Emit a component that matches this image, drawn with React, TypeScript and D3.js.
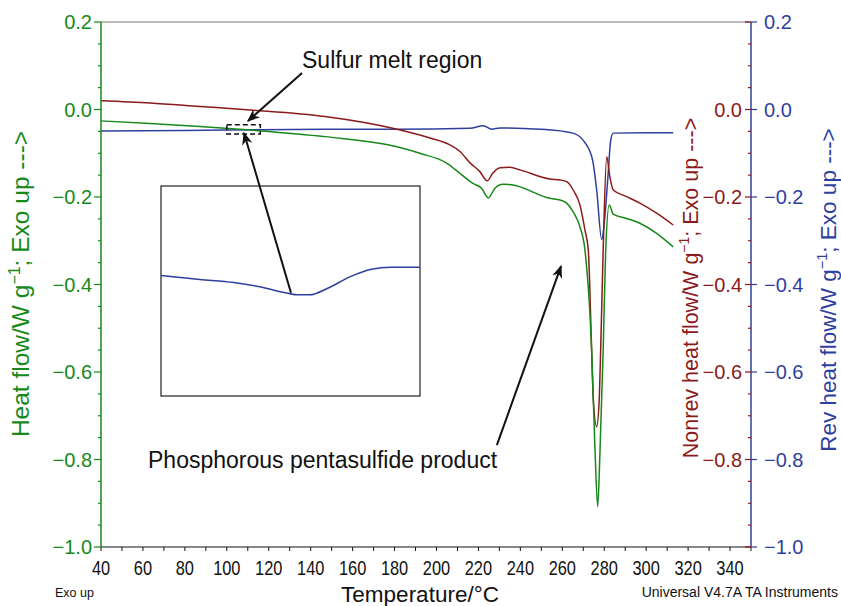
import React from "react";
import * as d3 from "d3";

// Temperature (°C) and heat flow (W/g)
const heatT = [40, 63.4, 87.2, 111.1, 146.8, 181.2, 192.1, 205, 211.2, 217.4, 221.5, 224.7, 227.9, 231.7, 235.8, 254.1, 258.9, 262.1, 265.2, 268.4, 270.8, 274.0, 275.6, 276.9, 278.0, 279.5, 280.7, 282.4, 284.3, 290.7, 297.0, 305.0, 312.9];
const heatV = [-0.026, -0.032, -0.039, -0.047, -0.062, -0.085, -0.100, -0.123, -0.146, -0.169, -0.180, -0.202, -0.180, -0.171, -0.172, -0.203, -0.207, -0.214, -0.234, -0.268, -0.321, -0.550, -0.778, -0.908, -0.778, -0.550, -0.321, -0.218, -0.239, -0.249, -0.260, -0.283, -0.314];

const nonrevT = [40, 63.4, 87.2, 111.1, 146.8, 181.2, 196.9, 206.4, 211.2, 216.0, 220.7, 224.2, 226.9, 230.3, 235.0, 239.8, 254.1, 258.9, 262.1, 265.2, 268.4, 270.8, 272.4, 274.0, 274.8, 276.4, 277.6, 278.3, 279.5, 281.2, 282.7, 284.3, 290.7, 297.0, 305.0, 312.9];
const nonrevV = [0.020, 0.015, 0.007, -0.001, -0.016, -0.045, -0.065, -0.081, -0.096, -0.122, -0.142, -0.163, -0.145, -0.133, -0.132, -0.138, -0.159, -0.161, -0.165, -0.184, -0.218, -0.275, -0.321, -0.550, -0.664, -0.725, -0.664, -0.550, -0.321, -0.108, -0.154, -0.184, -0.199, -0.214, -0.237, -0.264];

const revT = [40, 100, 146.8, 181.2, 216, 222.3, 226.3, 230.3, 249.3, 265.1, 269.9, 273.2, 274.6, 276.4, 278.8, 280.3, 281.9, 283.1, 284.3, 312.9];
const revV = [-0.049, -0.047, -0.045, -0.045, -0.043, -0.037, -0.045, -0.042, -0.045, -0.054, -0.070, -0.096, -0.119, -0.184, -0.297, -0.245, -0.145, -0.070, -0.054, -0.053];

// Inset: magnified reversing heat flow in the sulfur melt region
const insetT = [100.0, 102.4, 104.5, 106.1, 107.6, 108.4, 109.2, 110.3, 111.7, 113.0, 114.2, 116.0];
const insetV = [-0.04656, -0.04667, -0.04676, -0.04688, -0.04704, -0.04711, -0.04711, -0.04692, -0.04659, -0.04638, -0.04632, -0.04632];
const insetTDomain = [100, 116];
const insetVDomain = [-0.05, -0.044];

// Dashed selection box (T range, V range)
const boxT = [100, 116];
const boxV = [-0.035, -0.056];

const xTicks = [40, 60, 80, 100, 120, 140, 160, 180, 200, 220, 240, 260, 280, 300, 320, 340];
const yTicks = [0.2, 0.0, -0.2, -0.4, -0.6, -0.8, -1.0];
const nonrevTicks = [0.0, -0.2, -0.4, -0.6, -0.8];

// Annotation arrows in data coords: [T0, V0, T1, V1] (arrowhead at end)
const arrowSulfur = [135.9, 0.0834, 110.1, -0.0263];
const arrowInset = [130.6, -0.419, 108.2, -0.0537];
const arrowProduct = [228.8, -0.767, 259.4, -0.358];

const GREEN = "#17891a";
const RED = "#8b1a1a";
const BLUE = "#2f3f9f";
const FONT = "'Liberation Sans', Arial, Helvetica, sans-serif";

const fmt = (v: number) => {
  const s = Math.abs(v).toFixed(1);
  return v < -1e-9 ? "\u2212" + s : s;
};

export default function App() {
  const W = 841, H = 606;
  const L = 101, R = 751, T = 22, B = 547;
  const x = d3.scaleLinear().domain([40, 350]).range([L, R]);
  const y = d3.scaleLinear().domain([0.2, -1.0]).range([T, B]);

  const mk = (ts: number[], vs: number[]) =>
    d3.line<number>().x((_, i) => x(ts[i])).y((_, i) => y(vs[i])).curve(d3.curveMonotoneX)(ts) || "";

  const insetBox = { x0: 161, y0: 186, x1: 420, y1: 396 };
  const ix = d3.scaleLinear().domain(insetTDomain).range([insetBox.x0, insetBox.x1]);
  const iy = d3.scaleLinear().domain(insetVDomain).range([insetBox.y1, insetBox.y0]);
  const insetPath = d3.line<number>().x((_, i) => ix(insetT[i])).y((_, i) => iy(insetV[i])).curve(d3.curveMonotoneX)(insetT) || "";

  const minorY = d3.range(0, 25).map((i) => 0.2 - i * 0.05);
  const minorX = d3.range(40, 351, 10);

  const arrow = (a: number[], key: string) => {
    const x0 = x(a[0]), y0 = y(a[1]), x1 = x(a[2]), y1 = y(a[3]);
    return (
      <line key={key} x1={x0} y1={y0} x2={x1} y2={y1} stroke="#111" strokeWidth={2} markerEnd="url(#ah)" />
    );
  };

  return (
    <svg width={W} height={H} style={{ position: "absolute", left: 0, top: 0, background: "#fff" }} fontFamily={FONT}>
      <defs>
        <marker id="ah" viewBox="0 0 10 10" refX="9" refY="5" markerWidth="6.5" markerHeight="6.5" orient="auto" markerUnits="strokeWidth">
          <path d="M0,1 L10,5 L0,9 L3,5 Z" fill="#111" />
        </marker>
      </defs>
      <rect x={0} y={0} width={W} height={H} fill="#fff" />

      {/* frame top */}
      <line x1={L} x2={R} y1={T} y2={T} stroke="#777" strokeWidth={1.2} />

      {/* curves */}
      <path d={mk(revT, revV)} fill="none" stroke={BLUE} strokeWidth={1.5} />
      <path d={mk(nonrevT, nonrevV)} fill="none" stroke={RED} strokeWidth={1.5} />
      <path d={mk(heatT, heatV)} fill="none" stroke={GREEN} strokeWidth={1.5} />

      {/* bottom axis */}
      <line x1={L} x2={R} y1={B} y2={B} stroke="#111" strokeWidth={1.2} />
      {minorX.map((t) => (
        <line key={"bx" + t} x1={x(t)} x2={x(t)} y1={B} y2={B + 4} stroke="#111" strokeWidth={1} />
      ))}
      {xTicks.map((t) => (
        <text key={"xl" + t} transform={`translate(${x(t)},575) scale(0.82,1)`} textAnchor="middle" fontSize={20} fill="#111">{t}</text>
      ))}

      {/* left axis */}
      <line x1={L} x2={L} y1={T} y2={B} stroke={GREEN} strokeWidth={1.5} />
      {minorY.map((v, i) => (
        <line key={"lm" + i} x1={L - (i % 4 === 0 ? 7 : 3)} x2={L} y1={y(v)} y2={y(v)} stroke={GREEN} strokeWidth={1.2} />
      ))}
      {yTicks.map((v) => (
        <text key={"yl" + v} x={L - 9} y={y(v) + 7} textAnchor="end" fontSize={20} fill={GREEN}>{fmt(v)}</text>
      ))}

      {/* right axis */}
      <line x1={R} x2={R} y1={T} y2={B} stroke={BLUE} strokeWidth={1.5} />
      {minorY.map((v, i) => (
        <line key={"rm" + i} x1={R - (i % 4 === 0 ? 6 : 3)} x2={R} y1={y(v)} y2={y(v)} stroke={RED} strokeWidth={1.2} />
      ))}
      {yTicks.map((v) => (
        <line key={"rb" + v} x1={R} x2={R + 6} y1={y(v)} y2={y(v)} stroke={BLUE} strokeWidth={1.2} />
      ))}
      {nonrevTicks.map((v) => (
        <text key={"rr" + v} x={R - 9} y={y(v) + 7} textAnchor="end" fontSize={20} fill={RED}>{fmt(v)}</text>
      ))}
      {yTicks.map((v) => (
        <text key={"rbl" + v} x={R + 13} y={y(v) + 7} textAnchor="start" fontSize={20} fill={BLUE}>{fmt(v)}</text>
      ))}

      {/* axis titles */}
      <text transform="translate(29,284) rotate(-90)" textAnchor="middle" fontSize={24.5} fill={GREEN}>
        Heat flow/W g<tspan dy={-9} fontSize={16}>{"\u22121"}</tspan><tspan dy={9}>; Exo up ---&gt;</tspan>
      </text>
      <text transform="translate(698,288) rotate(-90)" textAnchor="middle" fontSize={21.5} fill={RED}>
        Nonrev heat flow/W g<tspan dy={-9} fontSize={14}>{"\u22121"}</tspan><tspan dy={9}>; Exo up ---&gt;</tspan>
      </text>
      <text transform="translate(836,290) rotate(-90)" textAnchor="middle" fontSize={22.5} fill={BLUE}>
        Rev heat flow/W g<tspan dy={-9} fontSize={14.5}>{"\u22121"}</tspan><tspan dy={9}>; Exo up ---&gt;</tspan>
      </text>

      <text x={55} y={597} fontSize={12.5} fill="#111">Exo up</text>
      <text x={420} y={602} textAnchor="middle" fontSize={22.5} fill="#111">Temperature/°C</text>
      <text x={838} y={597} textAnchor="end" fontSize={14} fill="#111">Universal V4.7A TA Instruments</text>

      {/* inset */}
      <rect x={insetBox.x0} y={insetBox.y0} width={insetBox.x1 - insetBox.x0} height={insetBox.y1 - insetBox.y0} fill="#fff" stroke="#222" strokeWidth={1.2} />
      <path d={insetPath} fill="none" stroke={BLUE} strokeWidth={1.5} />

      {/* dashed box */}
      <rect x={x(boxT[0])} y={y(boxV[0])} width={x(boxT[1]) - x(boxT[0])} height={y(boxV[1]) - y(boxV[0])} fill="none" stroke="#111" strokeWidth={1.5} strokeDasharray="5,3" />

      {/* annotations */}
      {arrow(arrowSulfur, "a1")}
      {arrow(arrowInset, "a2")}
      {arrow(arrowProduct, "a3")}
      <text x={302} y={68} fontSize={23} fill="#111">Sulfur melt region</text>
      <text x={148} y={468} fontSize={23} fill="#111">Phosphorous pentasulfide product</text>
    </svg>
  );
}
